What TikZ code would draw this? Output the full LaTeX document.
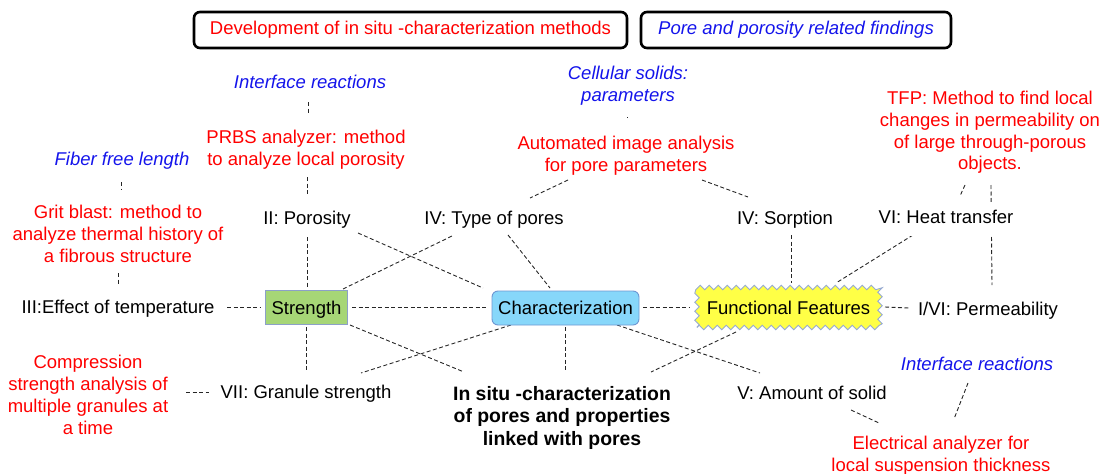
\documentclass[tikz,border=0pt]{standalone}
\usepackage{fontspec}
\setmainfont{Liberation Sans}
\usetikzlibrary{calc,decorations.pathmorphing,backgrounds}
\definecolor{methodred}{RGB}{255,0,0}
\definecolor{findblue}{RGB}{20,20,235}
\definecolor{strengthfill}{RGB}{166,214,118}
\definecolor{strengthline}{RGB}{140,160,200}
\definecolor{charfill}{RGB}{135,215,250}
\definecolor{charline}{RGB}{110,150,210}
\definecolor{funcfill}{RGB}{255,255,70}
\definecolor{funcline}{RGB}{150,170,210}
\newcommand\lblfont{\fontsize{18.5}{21.8}\selectfont}
\newcommand\boldlblfont{\fontsize{19.4}{22.5}\selectfont\bfseries}
\tikzset{
  lbl/.style={font=\lblfont, align=center, inner sep=0pt, text=black},
  oneline/.style={text height=13.5pt, text depth=4pt},
  boxtext/.style={text height=13.5pt, text depth=0pt, line width=0.9pt},
  method/.style={lbl, text=methodred},
  finding/.style={lbl, text=findblue, font=\lblfont\itshape},
  legendbox/.style={draw=black, line width=2.6pt, rounded corners=6pt,
    minimum height=36pt, inner sep=0pt, oneline},
  conn/.style={draw=black!85, line width=0.9pt, dash pattern=on 4pt off 2.5pt},
}
\begin{document}
\begin{tikzpicture}[x=1pt,y=-1pt]
\useasboundingbox (0,0) rectangle (1104,474);

% legend boxes
\node[legendbox, method, minimum width=433pt] (legm) at (410.5,30) {Development of in situ -characterization methods};
\node[legendbox, finding, minimum width=310pt] (legf) at (796,30) {Pore and porosity related findings};

% findings (blue)
\node[finding, oneline] (ifTop) at (310,84) {Interface reactions};
\node[finding, oneline] (fiber) at (122,161) {Fiber free length};
\node[finding] (cell) at (628,86) {Cellular solids:\\parameters};
\node[finding, oneline] (ifBot) at (977,366) {Interface reactions};

% methods (red)
\node[method] (prbs) at (306,150) {PRBS analyzer: method\\to analyze local porosity};
\node[method] (grit) at (118,234) {Grit blast: method to\\analyze thermal history of\\a fibrous structure};
\node[method] (auto) at (626,156) {Automated image analysis\\for pore parameters};
\node[method] (tfp) at (990,132.5) {TFP: Method to find local\\changes in permeability on\\of large through-porous\\objects.};
\node[method] (compr) at (88,395) {Compression\\strength analysis of\\multiple granules at\\a time};
\node[method] (elec) at (941,455.5) {Electrical analyzer for\\local suspension thickness};

% properties (black)
\node[lbl, oneline] (poro) at (307,220) {II: Porosity};
\node[lbl, oneline] (type) at (494,220) {IV: Type of pores};
\node[lbl, oneline] (sorp) at (785,220) {IV: Sorption};
\node[lbl, oneline, fill=white, inner ysep=8pt, inner xsep=2pt] (heat) at (946,219) {VI: Heat transfer};
\node[lbl, oneline] (effect) at (118,309) {III:Effect of temperature};
\node[lbl, oneline] (perm) at (988,311) {I/VI: Permeability};
\node[lbl, oneline] (gran) at (306,394) {VII: Granule strength};
\node[lbl, oneline] (amount) at (812,395) {V: Amount of solid};
\node[lbl, font=\boldlblfont] (insitu) at (562,417.5) {In situ -characterization\\of pores and properties\\linked with pores};

% central boxes
\node[lbl, boxtext, draw=strengthline, fill=strengthfill,
      minimum width=82pt, minimum height=34pt] (strength) at (306.5,307.5) {Strength};
\node[lbl, boxtext, draw=charline, fill=charfill, rounded corners=6pt,
      minimum width=147pt, minimum height=34pt] (char) at (565.5,308) {Characterization};
\node[lbl, boxtext, draw=funcline, fill=funcfill,
      minimum width=183pt, minimum height=40pt,
      decorate, decoration={zigzag, segment length=9pt, amplitude=2.2pt}] (func) at (788.5,307.5) {Functional Features};

% connectors, kept behind the labels
\begin{scope}[on background layer]
\draw[conn] ($(ifTop)+(-2,18)$) -- ($(prbs)+(2,-36)$);
\draw[conn] ($(prbs)+(1,27)$) -- ($(poro)+(0,-25)$);
\draw[conn] ($(poro)+(0,17)$) -- ($(strength)+(0.5,-19.5)$);
\draw[conn] ($(fiber)+(-1,21)$) -- ($(grit)+(3,-44)$);
\draw[conn] ($(grit)+(0,39)$) -- ($(effect)+(0,-24)$);
\draw[conn] ($(effect)+(109,-2)$) -- ($(strength)+(-46.5,-0.5)$);
\draw[conn] ($(strength)+(45.5,-0.5)$) -- ($(char)+(-77.5,-1)$);
\draw[conn] ($(char)+(77.5,-1)$) -- ($(func)+(-99.5,-0.5)$);
\draw[conn] ($(func)+(96.5,-0.5)$) -- ($(perm)+(-79,-3)$);
\draw[conn] ($(strength)+(-0.5,19.5)$) -- ($(gran)+(0,-22)$);
\draw[conn] ($(strength)+(36.5,-18.5)$) -- ($(type)+(-42,16)$);
\draw[conn] ($(poro)+(51,13)$) -- ($(char)+(-82.5,-20)$);
\draw[conn] ($(type)+(14,15)$) -- ($(char)+(-15.5,-20)$);
\draw[conn] ($(auto)+(-58,24)$) -- ($(type)+(36,-22)$);
\draw[conn] ($(auto)+(76,24)$) -- ($(sorp)+(-37,-23)$);
\draw[conn] ($(cell)+(-1,31)$) -- ($(auto)+(1,-38)$);
\draw[conn] ($(tfp)+(-25,52.5)$) -- ($(heat)+(14,-23)$);
\draw[conn] ($(tfp)+(1,52.5)$) -- ($(perm)+(4,-26)$);
\draw[conn] ($(heat)+(-33,16)$) -- ($(func)+(47.5,-24.5)$);
\draw[conn] ($(sorp)+(6,15)$) -- ($(func)+(2.5,-24.5)$);
\draw[conn] ($(strength)+(43.5,17.5)$) -- ($(insitu)+(-98,-45.5)$);
\draw[conn] ($(char)+(-54.5,17)$) -- ($(gran)+(55,-21)$);
\draw[conn] ($(char)+(-0.5,19)$) -- ($(insitu)+(3,-47.5)$);
\draw[conn] ($(char)+(51.5,17)$) -- ($(amount)+(-52,-22)$);
\draw[conn] ($(func)+(-52.5,24.5)$) -- ($(insitu)+(89,-45.5)$);
\draw[conn] ($(compr)+(98,-3)$) -- ($(gran)+(-97,-2)$);
\draw[conn] ($(amount)+(39,15)$) -- ($(elec)+(-62,-32.5)$);
\draw[conn] ($(ifBot)+(-9,17)$) -- ($(elec)+(13,-36.5)$);
\end{scope}
\end{tikzpicture}
\end{document}
